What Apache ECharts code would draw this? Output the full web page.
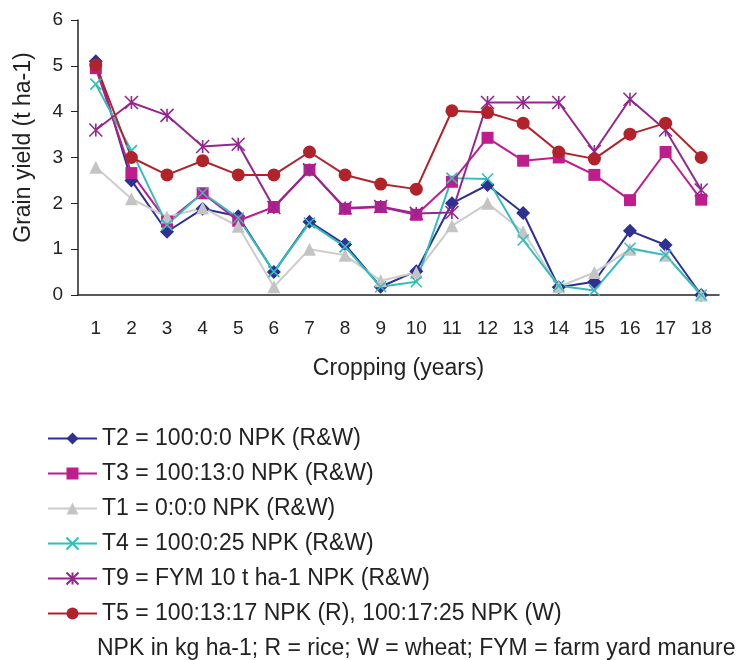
<!DOCTYPE html>
<html>
<head>
<meta charset="utf-8">
<script src="https://cdn.jsdelivr.net/npm/echarts@6/dist/echarts.min.js"></script>
<style>
  html, body { margin: 0; padding: 0; background: #fff; }
  #chart { width: 742px; height: 660px; }
</style>
</head>
<body>
<div id="chart"></div>
<script>
    let years = ['1','2','3','4','5','6','7','8','9','10','11','12','13','14','15','16','17','18']
    let t2 = [5.1, 2.5, 1.38, 1.88, 1.72, 0.5, 1.6, 1.1, 0.18, 0.52, 2.0, 2.4, 1.79, 0.17, 0.29, 1.4, 1.09, 0]
    let t3 = [4.95, 2.66, 1.6, 2.22, 1.62, 1.92, 2.73, 1.88, 1.92, 1.75, 2.47, 3.43, 2.93, 3.0, 2.62, 2.07, 3.12, 2.08]
    let t1 = [2.79, 2.1, 1.7, 1.9, 1.5, 0.18, 1.0, 0.87, 0.31, 0.49, 1.51, 2.0, 1.38, 0.18, 0.49, 1.0, 0.87, 0]
    let t4 = [4.6, 3.15, 1.53, 2.23, 1.68, 0.51, 1.57, 1.05, 0.18, 0.29, 2.55, 2.53, 1.2, 0.2, 0.1, 1.02, 0.87, 0]
    let t9 = [3.6, 4.2, 3.92, 3.24, 3.29, 1.91, 2.73, 1.9, 1.93, 1.78, 1.8, 4.2, 4.2, 4.2, 3.13, 4.27, 3.6, 2.29]
    let t5 = [5.02, 3.0, 2.62, 2.93, 2.62, 2.62, 3.12, 2.62, 2.42, 2.31, 4.02, 3.98, 3.75, 3.12, 2.97, 3.51, 3.75, 3.0]

    let names = [
        'T2 = 100:0:0 NPK (R&W)',
        'T3 = 100:13:0 NPK (R&W)',
        'T1 = 0:0:0 NPK (R&W)',
        'T4 = 100:0:25 NPK (R&W)',
        'T9 = FYM 10 t ha-1 NPK (R&W)',
        'T5 = 100:13:17 NPK (R), 100:17:25 NPK (W)'
    ]

    // x and asterisk markers, stroked paths
    let xMark = 'path://M0 0L10 10M10 0L0 10'
    let starMark = 'path://M0 0L10 10M10 0L0 10M5 0L5 10'

    function line(name, data, color, symbol, size, fill, lineColor) {
        return {
            name: name,
            type: 'line',
            data: data,
            symbol: symbol,
            symbolSize: size,
            showAllSymbol: true,
            lineStyle: { color: lineColor || color, width: 2 },
            itemStyle: { color: fill, borderColor: color, borderWidth: fill ? 0 : 1.6 },
            emphasis: { disabled: true }
        }
    }

    let font = '"Liberation Sans", Arial, sans-serif'
    var myChart = echarts.init(document.getElementById('chart'))

    var option = {
        animation: false,
        backgroundColor: '#fff',
        textStyle: { fontFamily: font },
        grid: { left: 78, right: 23, top: 20, bottom: 365 },
        xAxis: {
            type: 'category',
            data: years,
            name: 'Cropping (years)',
            nameLocation: 'middle',
            nameGap: 62,
            nameTextStyle: { fontSize: 23, color: '#222', fontFamily: font },
            axisLine: { lineStyle: { color: '#222', width: 1.5 } },
            axisTick: { length: 7, lineStyle: { color: '#222' } },
            axisLabel: { fontSize: 19, color: '#222', margin: 24, fontFamily: font }
        },
        yAxis: {
            type: 'value',
            min: 0, max: 6, interval: 1,
            name: 'Grain yield (t ha-1)',
            nameLocation: 'middle',
            nameGap: 43,
            nameTextStyle: { fontSize: 23, color: '#222', fontFamily: font, padding: [0, 0, 0, 20] },
            axisLine: { show: true, lineStyle: { color: '#222', width: 1.5 } },
            axisTick: { show: true, length: 7, lineStyle: { color: '#222' } },
            splitLine: { show: false },
            axisLabel: { fontSize: 19, color: '#222', margin: 15, fontFamily: font }
        },
        legend: {
            orient: 'vertical',
            left: 42,
            top: 422,
            itemWidth: 49,
            itemHeight: 15,
            itemGap: 12,
            textStyle: { fontSize: 23, lineHeight: 23, color: '#222', fontFamily: font },
            data: names
        },
        graphic: [{
            type: 'text',
            left: 97,
            top: 637,
            style: {
                text: 'NPK in kg ha-1; R = rice; W = wheat; FYM = farm yard manure',
                fontSize: 23,
                fill: '#222',
                fontFamily: font
            }
        }],
        series: [
            line(names[0], t2, '#2E3192', 'diamond', 14, '#2E3192'),
            line(names[1], t3, '#BE1E8D', 'rect', 12, '#BE1E8D'),
            line(names[2], t1, '#aaaaaa', 'triangle', 13, '#c4c4c4', '#cccccc'),
            line(names[3], t4, '#33BDBD', xMark, 11, null),
            line(names[4], t9, '#93278F', starMark, 13, null),
            line(names[5], t5, '#B1232A', 'circle', 13, '#B1232A')
        ]
    }

    myChart.setOption(option)
</script>
</body>
</html>
